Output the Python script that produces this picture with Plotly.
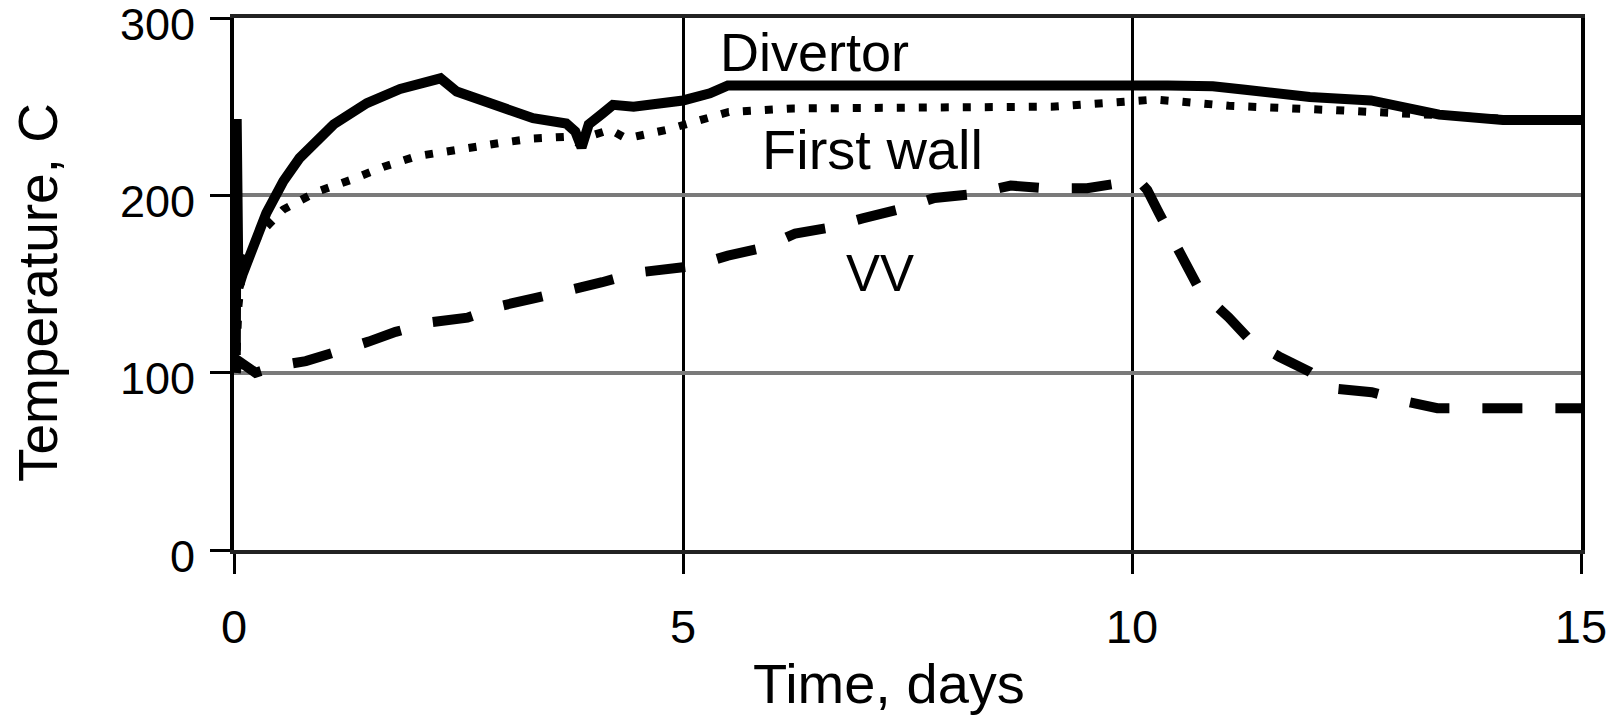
import plotly.graph_objects as go

# Time (days) and temperature (C) for each component
divertor_t = [0.02, 0.03, 0.05, 0.10, 0.18, 0.36, 0.55, 0.73, 1.11, 1.48, 1.85, 2.22, 2.3, 2.48,
              2.96, 3.33, 3.70, 3.80, 3.87, 3.95, 4.10, 4.22, 4.45, 4.82, 5.0, 5.3, 5.5,
              10.4, 10.9, 11.26, 11.98, 12.66, 13.05, 13.42, 14.13, 15.0]
divertor_T = [110, 243, 148, 156, 167, 190, 208, 221, 240, 252, 260, 265, 266, 258.5,
              250, 243.5, 240.5, 236, 227, 240, 246, 251, 250, 252, 253.5, 257.5, 262,
              262, 261.5, 259.5, 255.5, 253.5, 249, 245.5, 242.5, 242.5]

first_wall_t = [0.02, 0.05, 0.10, 0.29, 0.55, 0.92, 1.29, 1.66, 2.03, 2.41, 2.96, 3.33, 3.70,
                3.85, 4.0, 4.19, 4.37, 4.82, 5.11, 5.51, 6.23, 7.67, 9.10, 9.97, 10.25,
                10.5, 11.08, 12.27, 12.87, 13.5, 14.2, 15.0]
first_wall_T = [100, 138, 162, 178.5, 192, 202, 208.5, 216, 222, 225.5, 229.5, 232, 233,
                229, 234, 237, 232, 237, 241, 247, 249, 249, 250, 253, 254,
                253, 250.5, 248, 247, 245, 243, 243]

vv_t = [0.02, 0.04, 0.24, 0.5, 0.8, 1.1, 1.5, 1.8, 2.2, 2.6, 3.0, 3.35, 3.75, 4.1, 4.5, 5.1,
        5.5, 5.9, 6.25, 6.6, 7.0, 7.4, 7.8, 8.2, 8.65, 9.05, 9.5, 10.0, 10.1, 10.17, 10.3,
        10.4, 10.6, 10.76, 11.08, 11.32, 11.64, 11.98, 12.26, 12.67, 13.03, 13.4, 13.9,
        14.3, 15.0]
vv_T = [100, 107, 100, 104, 106.5, 111, 117.5, 123, 128.5, 131, 138, 142, 146.5, 151, 156.5,
        160, 166, 170.5, 178.5, 181.5, 187, 192, 198.5, 200.5, 205.5, 204, 204, 208, 207,
        203, 190, 180, 160, 146, 131, 118, 109, 100.5, 91, 89, 84, 80, 80, 80, 80]

x_ticks = [0, 5, 10, 15]
y_ticks = [0, 100, 200, 300]

# label text, left edge (days), vertical centre (C), font size
series_labels = [
    ("Divertor", 5.39, 281, 54),
    ("First wall", 5.86, 225.6, 56),
    ("VV", 6.79, 155.7, 51),
]

FONT = "Liberation Sans, Arial, sans-serif"

fig = go.Figure()
fig.add_trace(go.Scatter(x=first_wall_t, y=first_wall_T, mode="lines", name="First wall",
                         line=dict(color="black", width=8, dash="8px,14px")))
fig.add_trace(go.Scatter(x=vv_t, y=vv_T, mode="lines", name="VV",
                         line=dict(color="black", width=10, dash="40px,33px")))
fig.add_trace(go.Scatter(x=divertor_t, y=divertor_T, mode="lines", name="Divertor",
                         line=dict(color="black", width=10)))

for text, tx, ty, size in series_labels:
    fig.add_annotation(x=tx, y=ty, text=text, showarrow=False, xanchor="left",
                       yanchor="middle", font=dict(family=FONT, size=size, color="black"))

# Axis titles
fig.add_annotation(x=0.486, y=-0.25, xref="paper", yref="paper", text="Time, days",
                   showarrow=False, xanchor="center", yanchor="middle",
                   font=dict(family=FONT, size=56, color="black"))
fig.add_annotation(x=-0.1455, y=0.483, xref="paper", yref="paper", text="Temperature, C",
                   showarrow=False, xanchor="center", yanchor="middle", textangle=-90,
                   font=dict(family=FONT, size=55, color="black"))

fig.update_xaxes(range=[0, 15], tickvals=x_ticks, ticktext=[str(v) for v in x_ticks],
                 showgrid=True, gridcolor="black", gridwidth=3,
                 showline=True, linecolor="#222", linewidth=4, mirror=True,
                 ticks="outside", ticklen=20, tickwidth=3, tickcolor="black",
                 ticklabelstandoff=13, zeroline=False, ticklabeloverflow="allow",
                 automargin=False,
                 tickfont=dict(family=FONT, size=47, color="black"))
fig.update_yaxes(range=[0, 300], tickvals=y_ticks, ticktext=[str(v) for v in y_ticks],
                 showgrid=True, gridcolor="#7a7a7a", gridwidth=4,
                 showline=True, linecolor="black", linewidth=4, mirror=True,
                 ticks="outside", ticklen=20, tickwidth=3, tickcolor="black",
                 ticklabelstandoff=6, ticklabelshift=6, zeroline=False,
                 ticklabeloverflow="allow", automargin=False,
                 tickfont=dict(family=FONT, size=45, color="black"))

fig.update_layout(width=1614, height=721, margin=dict(l=234, r=33, t=18, b=171),
                  plot_bgcolor="white", paper_bgcolor="white", showlegend=False)

fig.write_html("out.html")
